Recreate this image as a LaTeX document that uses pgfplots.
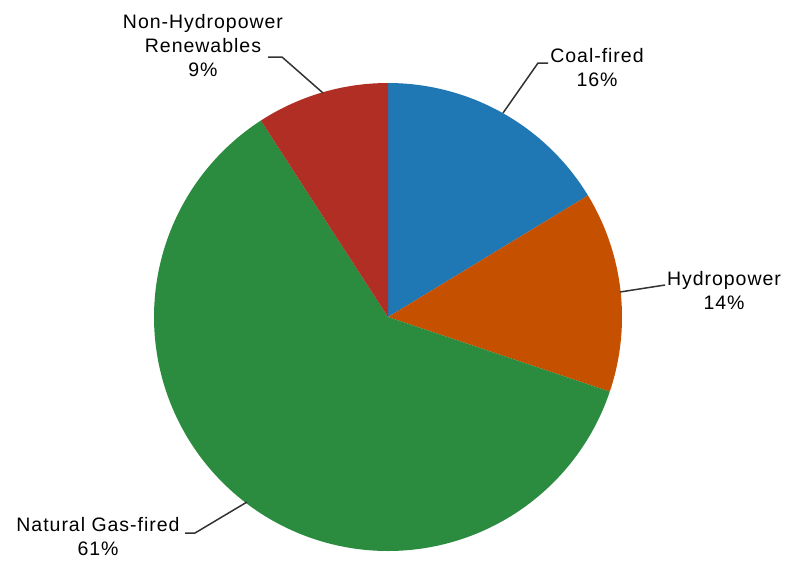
\documentclass[border=0pt]{standalone}
\usepackage{pgfplots}
\pgfplotsset{compat=1.18}
\usepackage{fontspec}
\setmainfont{Liberation Sans}[LetterSpace=5]
\definecolor{cBlue}{HTML}{1F77B4}
\definecolor{cOrange}{HTML}{C55100}
\definecolor{cGreen}{HTML}{2B8C3F}
\definecolor{cRed}{HTML}{B12E24}
\definecolor{cLine}{HTML}{333333}
\tikzset{lbl/.style={font=\fontsize{19.5}{24}\selectfont, align=center, text=black, inner sep=0pt}}
\begin{document}
\begin{tikzpicture}
\begin{axis}[
  width=791pt, height=565pt, scale only axis,
  xmin=0, xmax=791, ymin=0, ymax=565, y dir=reverse,
  axis lines=none, ticks=none,
  axis background/.style={fill=white},
  clip=false,
]
% Shares (percent): Coal-fired 16.3, Hydropower 13.8, Natural Gas-fired 60.8, Non-Hydropower Renewables 9.1
% Slice boundaries (degrees): 90, 31.3, -18.6, -237.1, -270
\addplot[fill=cBlue, draw=none, domain=31.3:90, samples=80] ({388+234*cos(x)},{317-234*sin(x)}) -- (388,317) -- cycle;
\addplot[fill=cOrange, draw=none, domain=-18.6:31.3, samples=80] ({388+234*cos(x)},{317-234*sin(x)}) -- (388,317) -- cycle;
\addplot[fill=cGreen, draw=none, domain=-237.1:-18.6, samples=200] ({388+234*cos(x)},{317-234*sin(x)}) -- (388,317) -- cycle;
\addplot[fill=cRed, draw=none, domain=-270:-237.1, samples=60] ({388+234*cos(x)},{317-234*sin(x)}) -- (388,317) -- cycle;
% leader lines
\addplot[cLine, line width=1.5pt] coordinates {(503,113) (538,63) (548,63)};
\addplot[cLine, line width=1.5pt] coordinates {(620,292) (665,285)};
\addplot[cLine, line width=1.5pt] coordinates {(247,502) (195,533) (185,533)};
\addplot[cLine, line width=1.5pt] coordinates {(323,93) (282,57) (268,57)};
% labels
\node[lbl] at (axis cs:597,68) {Coal-fired\\16\%};
\node[lbl] at (axis cs:724,290) {Hydropower\\14\%};
\node[lbl] at (axis cs:98,537) {Natural Gas-fired\\61\%};
\node[lbl] at (axis cs:203,46) {Non-Hydropower\\Renewables\\9\%};
\end{axis}
\end{tikzpicture}
\end{document}
